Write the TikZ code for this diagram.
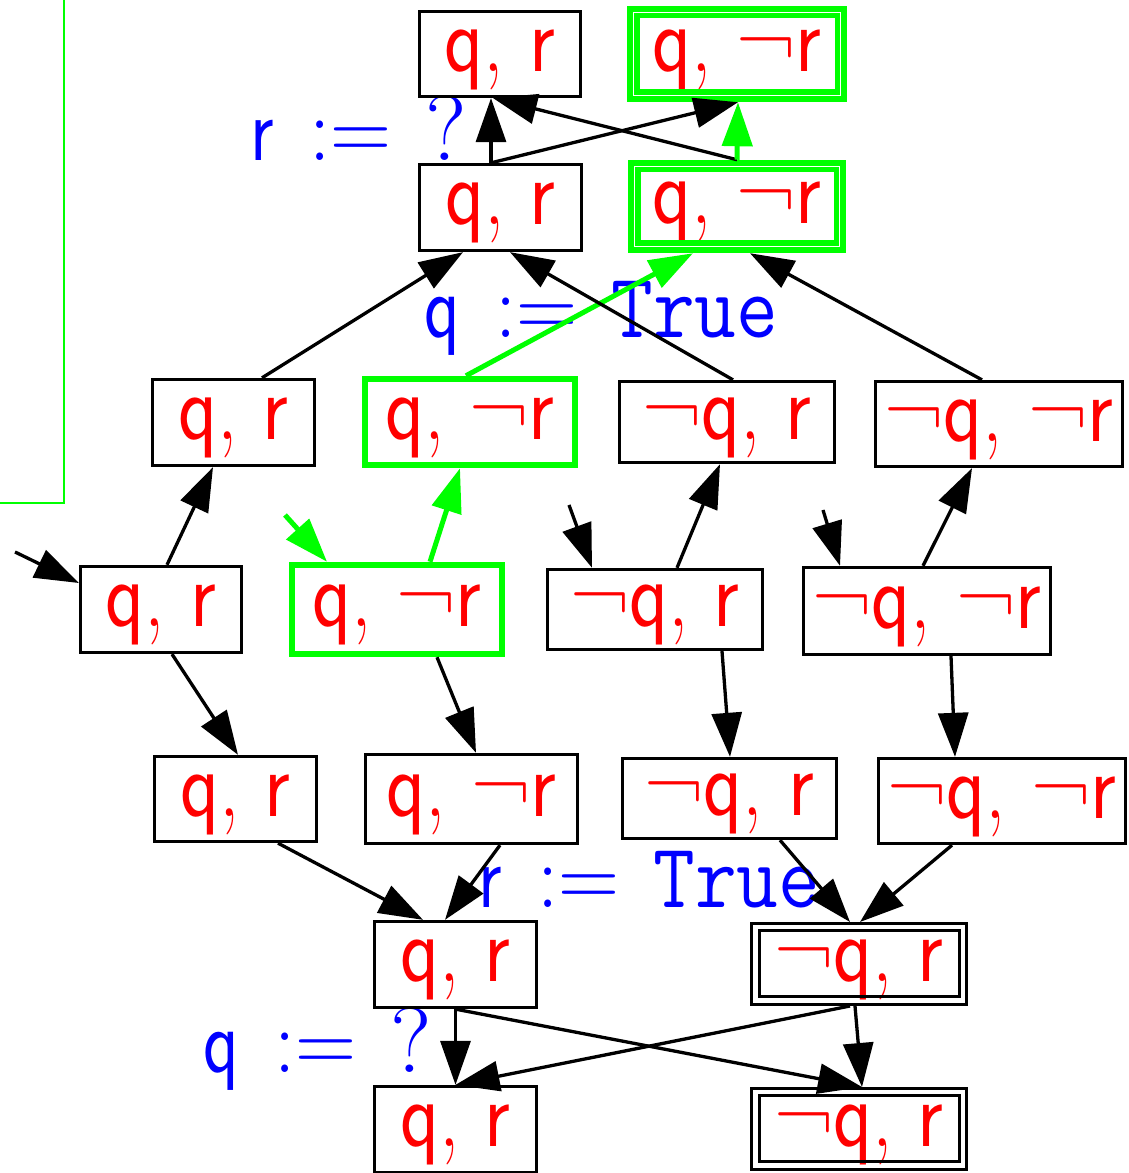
\documentclass[tikz,border=0pt]{standalone}
\usepackage{graphicx}
\usetikzlibrary{arrows.meta}
\definecolor{gvgreen}{rgb}{0,1,0}
\newcommand{\cm}{{\rmfamily,}}
\newcommand{\st}[1]{\scalebox{0.85}[1]{\fontsize{95}{95}\selectfont\sffamily #1}}
\newcommand{\lb}[1]{\scalebox{0.8}[1]{\fontsize{92}{92}\selectfont\sffamily #1}}
\newcommand{\asg}{\hspace{45pt}{\rmfamily\scalebox{1.15}[1]{:=}}\hspace{42pt}}
\newcommand{\tru}{{\ttfamily\scalebox{1.1}[1]{True}}}
\newcommand{\qm}{{\rmfamily\scalebox{1.3}[1]{?}}}
\begin{document}
\begin{tikzpicture}[x=1pt,y=1pt,
  state/.style={draw=black, line width=3.3pt, inner sep=0pt, text=red, rectangle,
                text height=42pt, text depth=7pt},
  gstate/.style={state, draw=gvgreen, line width=6.5pt},
  edge/.style={draw=black, line width=3.3pt, -{Triangle[length=44pt,width=30pt]}},
  gedge/.style={draw=gvgreen, line width=5pt, -{Triangle[length=44pt,width=30pt]}},
  lab/.style={text=blue, anchor=base west, inner sep=0pt},
  inbox/.style={line width=3pt}]
\useasboundingbox (0,0) rectangle (1129,1173);

% cluster frame
\draw[gvgreen, line width=1.5pt] (64,1173) -- (64,670) -- (0,670);

% labels
\node[lab] (l1) at (250,1012) {\lb{r\asg\qm}};
\node[lab] (l2) at (424,835) {\lb{q\asg\tru}};
\node[lab] (l3) at (478,265) {\lb{r\asg\tru}};
\node[lab] (l4) at (203,100) {\lb{q\asg\qm}};

% row A
\node[state, minimum width=161pt, minimum height=85pt] (A1) at (500,1119) {\st{q\cm{} r}};
\node[gstate, minimum width=214pt, minimum height=90pt] (A2) at (737,1119) {\st{q\cm{} ¬r}};
\draw[gvgreen, line width=5.5pt] ([shift={(10pt,10pt)}]A2.south west) rectangle ([shift={(-10pt,-10pt)}]A2.north east);
% row B
\node[state, minimum width=162pt, minimum height=86pt] (B1) at (500.5,965.5) {\st{q\cm{} r}};
\node[gstate, minimum width=212pt, minimum height=87pt] (B2) at (737,966.5) {\st{q\cm{} ¬r}};
\draw[gvgreen, line width=5.5pt] ([shift={(10pt,10pt)}]B2.south west) rectangle ([shift={(-10pt,-10pt)}]B2.north east);
% row C
\node[state, minimum width=162pt, minimum height=86pt] (C1) at (233.5,750.5) {\st{q\cm{} r}};
\node[gstate, minimum width=210pt, minimum height=86pt] (C2) at (470,751) {\st{q\cm{} ¬r}};
\node[state, minimum width=215pt, minimum height=81pt] (C3) at (727,751) {\st{¬q\cm{} r}};
\node[state, minimum width=247pt, minimum height=85pt] (C4) at (999,749) {\st{¬q\cm{} ¬r}};
% row D
\node[state, minimum width=161pt, minimum height=86pt] (D1) at (161,563.5) {\st{q\cm{} r}};
\node[gstate, minimum width=210pt, minimum height=89pt] (D2) at (397,563.5) {\st{q\cm{} ¬r}};
\node[state, minimum width=215pt, minimum height=80pt] (D3) at (655,563.5) {\st{¬q\cm{} r}};
\node[state, minimum width=247pt, minimum height=87pt] (D4) at (927,562) {\st{¬q\cm{} ¬r}};
% row E
\node[state, minimum width=162pt, minimum height=85pt] (E1) at (235.5,374) {\st{q\cm{} r}};
\node[state, minimum width=212pt, minimum height=89pt] (E2) at (471.5,374) {\st{q\cm{} ¬r}};
\node[state, minimum width=214pt, minimum height=80pt] (E3) at (729.5,374.5) {\st{¬q\cm{} r}};
\node[state, minimum width=247pt, minimum height=85pt] (E4) at (1002,372) {\st{¬q\cm{} ¬r}};
% row F
\node[state, minimum width=162pt, minimum height=86pt] (F1) at (455.5,208.5) {\st{q\cm{} r}};
\node[state, line width=3pt, minimum width=215pt, minimum height=81pt] (F2) at (859,209) {\st{¬q\cm{} r}};
\draw[inbox] ([shift={(9pt,9pt)}]F2.south west) rectangle ([shift={(-9pt,-9pt)}]F2.north east);
% row G
\node[state, minimum width=162pt, minimum height=86pt] (G1) at (455.5,43.5) {\st{q\cm{} r}};
\node[state, line width=3pt, minimum width=215pt, minimum height=81pt] (G2) at (859,44) {\st{¬q\cm{} r}};
\draw[inbox] ([shift={(9pt,9pt)}]G2.south west) rectangle ([shift={(-9pt,-9pt)}]G2.north east);

% initial arrows
\coordinate (i1) at (15,621);
\coordinate (i2) at (285,658);
\coordinate (i3) at (569,668);
\coordinate (i4) at (823,663);
\draw[edge] (i1) -- ([yshift=26.5pt]D1.west);
\draw[gedge] (i2) -- ([xshift=-70pt]D2.north);
\draw[edge] (i3) -- ([xshift=-63pt]D3.north);
\draw[edge] (i4) -- ([xshift=-87pt]D4.north);

% D -> C
\draw[edge] ([xshift=6pt]D1.north) -- ([xshift=-20.5pt]C1.south);
\draw[gedge] ([xshift=33pt]D2.north) -- ([xshift=-10pt]C2.south);
\draw[edge] ([xshift=22pt]D3.north) -- ([xshift=-7pt]C3.south);
\draw[edge] ([xshift=-4pt]D4.north) -- ([xshift=-27pt]C4.south);
% D -> E
\draw[edge] ([xshift=11pt]D1.south) -- ([xshift=2.5pt]E1.north);
\draw[edge] ([xshift=40pt]D2.south) -- ([xshift=4.5pt]E2.north);
\draw[edge] ([xshift=67pt]D3.south) -- ([xshift=0.5pt]E3.north);
\draw[edge] ([xshift=24pt]D4.south) -- ([xshift=-47pt]E4.north);
% C -> B
\draw[edge] ([xshift=28.5pt]C1.north) -- ([xshift=-37.5pt]B1.south);
\draw[gedge] ([xshift=-4pt]C2.north) -- ([xshift=-44pt]B2.south);
\draw[edge] ([xshift=6pt]C3.north) -- ([xshift=9.5pt]B1.south);
\draw[edge] ([xshift=-17pt]C4.north) -- ([xshift=13pt]B2.south);
% B -> A
\draw[edge] ([xshift=-9.5pt]B1.north) -- ([xshift=-9pt]A1.south);
\draw[edge] ([xshift=-9.5pt]B1.north) -- ([xshift=1pt]A2.south);
\draw[edge] (B2.north) -- ([xshift=-7pt]A1.south);
\draw[gedge] (B2.north) -- ([xshift=1pt]A2.south);
% E -> F
\draw[edge] ([xshift=42.5pt]E1.south) -- ([xshift=-32.5pt]F1.north);
\draw[edge] ([xshift=28.5pt]E2.south) -- ([xshift=-10.5pt]F1.north);
\draw[edge] ([xshift=50.5pt]E3.south) -- ([xshift=-9pt]F2.north);
\draw[edge] ([xshift=-50pt]E4.south) -- ([xshift=1pt]F2.north);
% F -> G
\draw[edge] (F1.south) -- (G1.north);
\draw[edge] (F1.south) -- ([xshift=3pt]G2.north);
\draw[edge] ([xshift=-9pt]F2.south) -- (G1.north);
\draw[edge] ([xshift=-4pt]F2.south) -- ([xshift=3pt]G2.north);
\end{tikzpicture}
\end{document}
